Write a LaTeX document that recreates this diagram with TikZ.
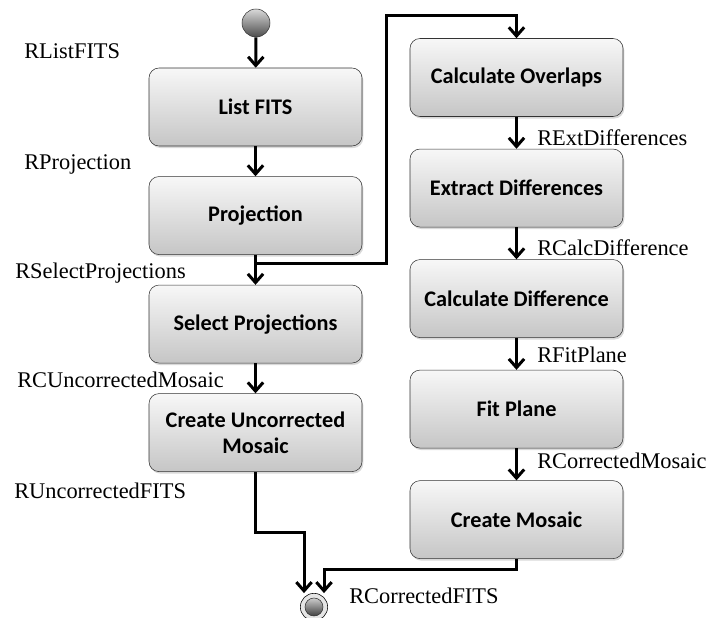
\documentclass[tikz,border=0pt]{standalone}
\usepackage{fontspec}
\setmainfont{Liberation Serif}
\newfontfamily\boxfont{Carlito}
\usetikzlibrary{arrows.meta,shadows}

\begin{document}
\begin{tikzpicture}[x=0.75pt,y=-0.75pt,node distance=81.4pt]

	\tikzstyle{activity}=[draw=black!80,rounded corners=7.5pt,
		top color=gray!6,bottom color=gray!45,
		drop shadow={opacity=0.3,shadow xshift=1pt,shadow yshift=-1.5pt},
		minimum width=159.75pt,minimum height=58.5pt,
		align=center,font=\boxfont\bfseries\fontsize{16.7}{20}\selectfont]
	\tikzstyle{flow}=[line width=2.25pt,
		-{Straight Barb[length=6.5pt,width=11.5pt]}]
	\tikzstyle{res}=[anchor=base west,inner sep=0pt,
		font=\fontsize{16.8}{20}\selectfont]

	\useasboundingbox (0,0) rectangle (711,618);

	% left column
	\node[circle,draw=black!80,top color=black!15,bottom color=black!70,
		minimum size=21pt,inner sep=0pt]		(start)	at (256,23) {};
	\node[activity]	(list)	at (255.5,107)	{List FITS};
	\node[activity,below of=list]	(proj)	{Projection};
	\node[activity,below of=proj]	(select)	{Select Projections};
	\node[activity,below of=select]	(uncorr)	{Create Uncorrected\\Mosaic};

	% right column
	\node[activity]	(overlaps)	at (516.5,77.5)	{Calculate Overlaps};
	\node[activity,below of=overlaps,node distance=82.9pt]	(extract)	{Extract Differences};
	\node[activity,below of=extract,node distance=82.9pt]	(calcdiff)	{Calculate Difference};
	\node[activity,below of=calcdiff,node distance=82.9pt]	(fit)	{Fit Plane};
	\node[activity,below of=fit,node distance=82.9pt]	(mosaic)	{Create Mosaic};

	% final node
	\node[circle,draw=black,fill=gray!20,minimum size=20.5pt,
		inner sep=0pt]		(end)	at (314,607) {};
	\node[circle,draw=black!80,top color=black!20,bottom color=black!75,
		minimum size=13.5pt,inner sep=0pt]		(endcore)	at (end) {};

	\draw[flow] (start) -- (list);
	\draw[flow] (list) -- (proj);
	\draw[flow] (proj) -- (select);
	\draw[flow] (select) -- (uncorr);
	\coordinate (split) at ([yshift=-6.75pt]proj.south);
	\draw[flow] (split) -- ++(98.25pt,0) |- ([yshift=17.25pt]overlaps.north)
		-- (overlaps.north);
	\draw[flow] (overlaps) -- (extract);
	\draw[flow] (extract) -- (calcdiff);
	\draw[flow] (calcdiff) -- (fit);
	\draw[flow] (fit) -- (mosaic);
	\draw[flow] (uncorr.south) -- ++(0,-45.75pt) -| ([xshift=-7.5pt]end.north);
	\draw[flow] (mosaic.south) -- ++(0,-8.25pt) -| ([xshift=7.5pt]end.north);

	\node[res]	(rlist)	at (24,58)	{RListFITS};
	\node[res]	(rproj)	at (24,169)	{RProjection};
	\node[res]	(rselect)	at (15,278)	{RSelectProjections};
	\node[res]	(rcuncorr)	at (17,387)	{RCUncorrectedMosaic};
	\node[res]	(runcorr)	at (14,498)	{RUncorrectedFITS};
	\node[res]	(rextract)	at (537,145)	{RExtDifferences};
	\node[res]	(rcalcdiff)	at (537,255)	{RCalcDifference};
	\node[res]	(rfit)	at (537,362)	{RFitPlane};
	\node[res]	(rcmosaic)	at (537,468)	{RCorrectedMosaic};
	\node[res]	(rcfits)	at (349,603)	{RCorrectedFITS};

\end{tikzpicture}
\end{document}
